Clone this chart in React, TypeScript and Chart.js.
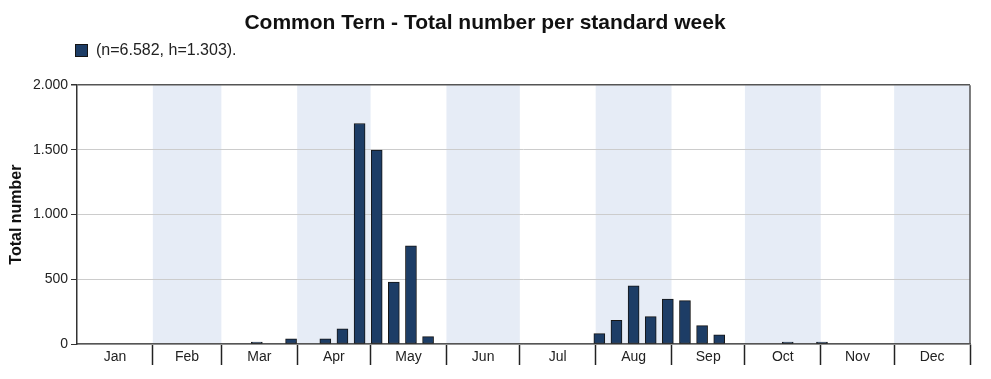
import React, { useEffect, useRef } from "react";
import { Chart, registerables } from "chart.js";

Chart.register(...registerables);

const TITLE = "Common Tern - Total number per standard week";
const SERIES_LABEL = "(n=6.582, h=1.303).";
const Y_TITLE = "Total number";
const MONTHS = ["Jan", "Feb", "Mar", "Apr", "May", "Jun", "Jul", "Aug", "Sep", "Oct", "Nov", "Dec"];
const MONTH_DAYS = [31, 28, 31, 30, 31, 30, 31, 31, 30, 31, 30, 31];
const Y_TICKS = [0, 500, 1000, 1500, 2000];

// standard week numbers with observations, and their totals
const WEEKS = [11, 13, 15, 16, 17, 18, 19, 20, 21, 31, 32, 33, 34, 35, 36, 37, 38, 42, 44];
const COUNTS = [8, 40, 40, 118, 1704, 1498, 479, 759, 57, 80, 183, 450, 211, 347, 335, 142, 70, 5, 5];

const BAR_FILL = "#1d3d66";
const BAR_BORDER = "#151515";
const BAND = "#e6ecf6";
const FONT = "'Liberation Sans', Arial, sans-serif";

const boundaries: number[] = [0];
MONTH_DAYS.forEach((d, i) => boundaries.push(boundaries[i] + d));

const fmt = (v: number) => String(v).replace(/\B(?=(\d{3})+(?!\d))/g, ".");

export default function App() {
  const ref = useRef<HTMLCanvasElement | null>(null);

  useEffect(() => {
    if (!ref.current) return;

    const bandsPlugin = {
      id: "bands",
      beforeDraw(chart: any) {
        const { ctx, chartArea, scales } = chart;
        const x = scales.x;
        ctx.save();
        ctx.fillStyle = BAND;
        for (let i = 1; i < 12; i += 2) {
          const l = x.getPixelForValue(boundaries[i]);
          const r = x.getPixelForValue(boundaries[i + 1]);
          ctx.fillRect(l, chartArea.top, r - l, chartArea.bottom - chartArea.top);
        }
        ctx.restore();
      },
      afterDraw(chart: any) {
        const { ctx, chartArea } = chart;
        ctx.save();
        // right border
        ctx.strokeStyle = "#555";
        ctx.lineWidth = 1.5;
        ctx.beginPath();
        ctx.moveTo(chartArea.right, chartArea.top);
        ctx.lineTo(chartArea.right, chartArea.bottom);
        ctx.stroke();
        // legend
        ctx.fillStyle = BAR_FILL;
        ctx.fillRect(75.5, 44.5, 12, 12);
        ctx.strokeStyle = BAR_BORDER;
        ctx.lineWidth = 1;
        ctx.strokeRect(75.5, 44.5, 12, 12);
        ctx.fillStyle = "#222";
        ctx.font = `16px ${FONT}`;
        ctx.textBaseline = "middle";
        ctx.textAlign = "left";
        ctx.fillText(chart.data.datasets[0].label, 96, 51);
        ctx.restore();
      },
    };

    const xTicks: number[] = [];
    for (let i = 0; i < 12; i++) {
      xTicks.push(boundaries[i]);
      xTicks.push((boundaries[i] + boundaries[i + 1]) / 2);
    }
    xTicks.push(boundaries[12]);

    const chart = new Chart(ref.current, {
      type: "bar",
      data: {
        datasets: [
          {
            label: SERIES_LABEL,
            data: WEEKS.map((w, i) => ({ x: 7 * (w - 1) + 3.5, y: COUNTS[i] })),
            backgroundColor: BAR_FILL,
            borderColor: BAR_BORDER,
            borderWidth: 1,
            borderSkipped: false,
            barThickness: 11,
            minBarLength: 2,
          },
        ],
      },
      options: {
        responsive: false,
        animation: false,
        layout: { padding: { left: 0, right: 21, top: 0, bottom: 0 } },
        plugins: {
          legend: { display: false },
          tooltip: { enabled: false },
          title: {
            display: true,
            text: TITLE,
            color: "#111",
            font: { family: FONT, size: 21, weight: "bold" },
            padding: { top: 11, bottom: 49 },
          },
        },
        scales: {
          x: {
            type: "linear",
            position: "bottom",
            offset: false,
            min: 0,
            max: 365,
            afterBuildTicks: (scale: any) => {
              scale.ticks = xTicks.map((v) => ({ value: v }));
            },
            afterFit: (scale: any) => {
              scale.height = 35;
            },
            ticks: {
              autoSkip: false,
              maxRotation: 0,
              padding: -16,
              color: "#222",
              font: { family: FONT, size: 14 },
              callback: (_v: any, index: number) =>
                index % 2 === 1 ? MONTHS[(index - 1) / 2] : "",
            },
            grid: {
              offset: false,
              drawOnChartArea: false,
              drawTicks: true,
              tickLength: 21,
              tickColor: (ctx: any) =>
                ctx.index % 2 === 0 && ctx.index > 0 ? "#222" : "rgba(0,0,0,0)",
              tickWidth: 1.5,
            },
            border: { display: true, color: "#555", width: 1.5 },
          },
          y: {
            min: 0,
            max: 2000,
            afterBuildTicks: (scale: any) => {
              scale.ticks = Y_TICKS.map((v) => ({ value: v }));
            },
            afterFit: (scale: any) => {
              scale.width = 77;
            },
            ticks: {
              padding: 3,
              color: "#222",
              font: { family: FONT, size: 14 },
              callback: (v: any) => fmt(Number(v)),
            },
            grid: {
              color: (ctx: any) =>
                ctx.tick && ctx.tick.value === 2000 ? "#555" : "#cccccc",
              lineWidth: (ctx: any) => (ctx.tick && ctx.tick.value === 2000 ? 1.5 : 1),
              tickColor: "#333",
              tickLength: 6,
            },
            border: { display: true, color: "#333", width: 1.5 },
            title: {
              display: true,
              text: Y_TITLE,
              color: "#111",
              font: { family: FONT, size: 16, weight: "bold" },
              padding: { top: 7, bottom: 0 },
            },
          },
        },
      },
      plugins: [bandsPlugin],
    });

    return () => chart.destroy();
  }, []);

  return (
    <div style={{ position: "absolute", left: 0, top: 0, width: 991, height: 379 }}>
      <canvas ref={ref} width={991} height={379} style={{ display: "block" }} />
    </div>
  );
}
